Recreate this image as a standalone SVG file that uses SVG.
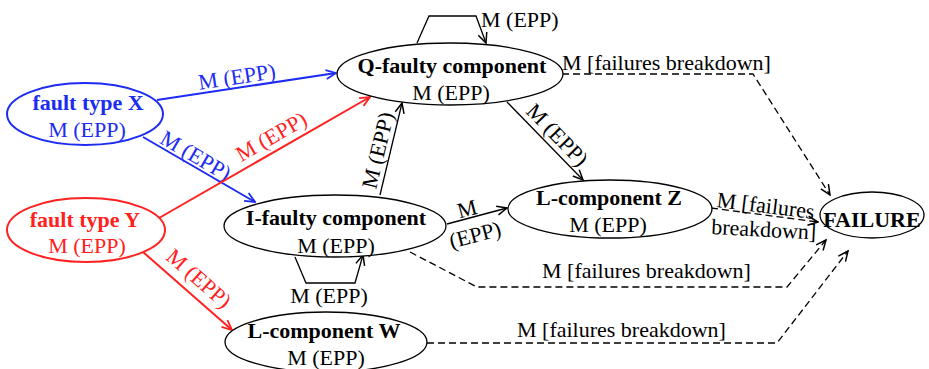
<svg xmlns="http://www.w3.org/2000/svg" width="929" height="369" viewBox="0 0 929 369">
<style>
text{font-family:"Liberation Serif","Times New Roman",serif;font-size:22px;fill:#000}
.b{font-weight:bold}
.m{text-anchor:middle}
.blue{fill:#1c2cf2}
.red{fill:#ff2020}
.node{fill:#fff;stroke:#000;stroke-width:1.3}
.e{fill:none;stroke:#000;stroke-width:1.3}
.eb{fill:none;stroke:#1c2cf2;stroke-width:2}
.er{fill:none;stroke:#ff2020;stroke-width:2}
.d{fill:none;stroke:#000;stroke-width:1.3;stroke-dasharray:7 4}
</style>
<defs>
<marker id="ak" markerUnits="userSpaceOnUse" viewBox="0 0 12 12" markerWidth="12" markerHeight="12" refX="11" refY="6" orient="auto"><path d="M1,1.5 L11,6 L1,10.5" fill="none" stroke="#000" stroke-width="1.5" stroke-dasharray="none"/></marker>
<marker id="ab" markerUnits="userSpaceOnUse" viewBox="0 0 12 12" markerWidth="12" markerHeight="12" refX="11" refY="6" orient="auto"><path d="M1,1.5 L11,6 L1,10.5" fill="none" stroke="#1c2cf2" stroke-width="1.8"/></marker>
<marker id="ar" markerUnits="userSpaceOnUse" viewBox="0 0 12 12" markerWidth="12" markerHeight="12" refX="11" refY="6" orient="auto"><path d="M1,1.5 L11,6 L1,10.5" fill="none" stroke="#ff2020" stroke-width="1.8"/></marker>
</defs>
<g id="connectors">
<path class="eb" d="M157,100 L336,73" marker-end="url(#ab)"/>
<text class="blue m" transform="translate(238,84) rotate(-8.6)">M (EPP)</text>
<path class="eb" d="M143,137 L255,202" marker-end="url(#ab)"/>
<text class="blue m" transform="translate(192,162) rotate(30.1)">M (EPP)</text>
<path class="er" d="M159,218 L370,97" marker-end="url(#ar)"/>
<text class="red m" transform="translate(275,143) rotate(-29.9)">M (EPP)</text>
<path class="er" d="M143,252 L232,330" marker-end="url(#ar)"/>
<text class="red m" transform="translate(194,284) rotate(41.2)">M (EPP)</text>
<path class="e" d="M380,195 L402,103" marker-end="url(#ak)"/>
<text class="m" transform="translate(385,152) rotate(-76.6)">M (EPP)</text>
<path class="e" d="M507,102 L583,180" marker-end="url(#ak)"/>
<text class="m" transform="translate(552,140) rotate(45.7)">M (EPP)</text>
<path class="e" d="M447,224 L507,208" marker-end="url(#ak)"/>
<text class="m" transform="translate(469,216) rotate(-14.9)">M</text>
<text class="m" transform="translate(477,242) rotate(-14.9)">(EPP)</text>
<path class="e" d="M417,43 L429,16 L476,16 L486,43" marker-end="url(#ak)"/>
<text x="481" y="27">M (EPP)</text>
<path class="e" d="M295,257 L306,283 L355,283 L363,255" marker-end="url(#ak)"/>
<text class="m" x="329" y="303">M (EPP)</text>
<path class="d" d="M562,74 L753,74 L830,195" marker-end="url(#ak)"/>
<text x="562" y="70">M [failures breakdown]</text>
<path class="d" d="M711,208 L818,222" marker-end="url(#ak)"/>
<text transform="translate(716,207) rotate(7)">M [failures</text>
<text transform="translate(711,234) rotate(3)">breakdown]</text>
<path class="d" d="M410,252 L477,287 L787,287 L826,240" marker-end="url(#ak)"/>
<text x="542" y="278">M [failures breakdown]</text>
<path class="d" d="M427,343 L777,343 L848,251" marker-end="url(#ak)"/>
<text x="517" y="337">M [failures breakdown]</text>
</g>
<g id="faultX">
<ellipse cx="85" cy="114" rx="78" ry="31" fill="#fff" stroke="#1c2cf2" stroke-width="2"/>
<text class="b m blue" x="88" y="110">fault type X</text>
<text class="m blue" x="87" y="137">M (EPP)</text>
</g>
<g id="faultY">
<ellipse cx="86" cy="230" rx="79" ry="32" fill="#fff" stroke="#ff2020" stroke-width="2"/>
<text class="b m red" x="85" y="227">fault type Y</text>
<text class="m red" x="87" y="253">M (EPP)</text>
</g>
<g id="qfaulty">
<ellipse class="node" cx="450" cy="74" rx="113" ry="31"/>
<text class="b m" x="452" y="73">Q-faulty component</text>
<text class="m" x="451" y="100">M (EPP)</text>
</g>
<g id="ifaulty">
<ellipse class="node" cx="335" cy="226" rx="111" ry="31"/>
<text class="b m" x="336" y="225">I-faulty component</text>
<text class="m" x="336" y="253">M (EPP)</text>
</g>
<g id="lcompZ">
<ellipse class="node" cx="610" cy="209" rx="102" ry="29"/>
<text class="b m" x="609" y="205">L-component Z</text>
<text class="m" x="608" y="232">M (EPP)</text>
</g>
<g id="lcompW">
<ellipse class="node" cx="326" cy="342" rx="101" ry="30"/>
<text class="b m" x="324" y="338">L-component W</text>
<text class="m" x="326" y="365">M (EPP)</text>
</g>
<g id="failure">
<ellipse class="node" cx="872" cy="215" rx="52" ry="23"/>
<text class="b m" x="872" y="227">FAILURE</text>
</g>
</svg>
